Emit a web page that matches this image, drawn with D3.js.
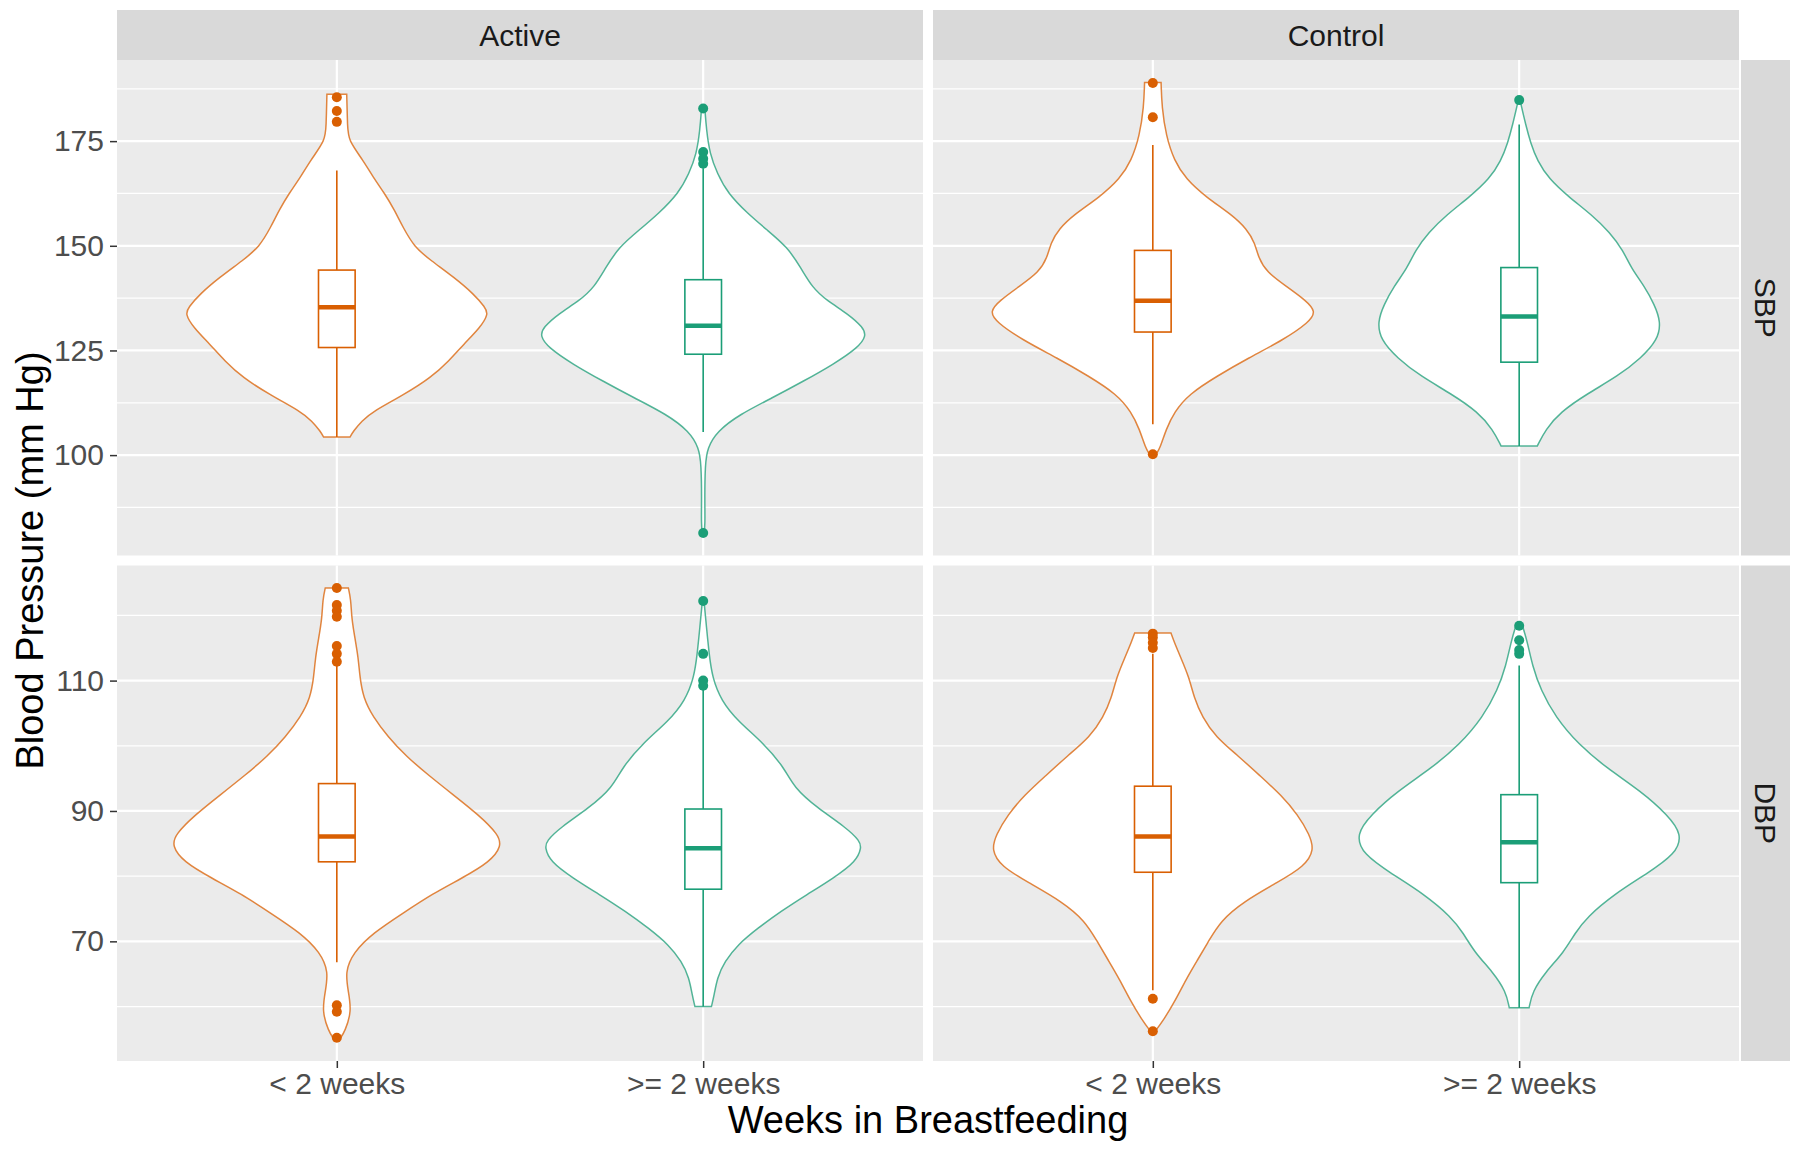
<!DOCTYPE html>
<html>
<head>
<meta charset="utf-8">
<script src="https://cdn.jsdelivr.net/npm/d3@7"></script>
<style>
  body { margin: 0; background: #fff; }
  svg { display: block; font-family: "Liberation Sans", Arial, sans-serif; }
</style>
</head>
<body>
<div id="chart"></div>
<script>
// facets and groups
const treatments = ["Active", "Control"];
const measures = ["SBP", "DBP"];
const groups = ["< 2 weeks", ">= 2 weeks"];
const groupColors = ["#D95F02", "#1B9E77"];

const sbpTicks = [100, 125, 150, 175];
const dbpTicks = [70, 90, 110];

// violin outlines: [mm Hg, relative density]
const activeSbpLt2 = [[186.2,0.06],[178.4,0.065],[175.2,0.07],[170.4,0.16],[166.4,0.22],[162.5,0.29],[158.5,0.35],[154.5,0.4],[149.7,0.47],[146.5,0.57],[142.5,0.71],[138.5,0.83],[135.3,0.9],[133.7,0.92],[130.5,0.87],[126.5,0.77],[122.5,0.68],[118.5,0.57],[114.5,0.41],[110.5,0.22],[108.1,0.15],[105.7,0.1],[104.3,0.08]];
const activeSbpGe2 = [[182.8,0.01],[177.6,0.02],[172,0.04],[167.3,0.085],[162.5,0.15],[157.7,0.27],[153.7,0.39],[149.7,0.51],[144.9,0.59],[140.1,0.66],[136.9,0.75],[133.7,0.88],[130.5,0.97],[128.5,0.99],[125.7,0.94],[121.7,0.79],[117.7,0.61],[113.7,0.42],[109.7,0.22],[105.7,0.085],[101.7,0.025],[97.7,0.012],[89.8,0.009],[83.4,0.012],[81.4,0.005]];
const controlSbpLt2 = [[189,0.05],[183.1,0.055],[176.3,0.08],[170.3,0.13],[166,0.2],[161.7,0.32],[157.4,0.48],[154,0.57],[150.6,0.62],[147.2,0.64],[143.7,0.69],[140.3,0.81],[136.9,0.93],[134.3,0.99],[131.8,0.95],[127.5,0.79],[123.2,0.58],[118.9,0.39],[114.6,0.22],[110.3,0.13],[106.1,0.08],[101.8,0.045],[100.2,0.02]];
const controlSbpGe2 = [[184.8,0.005],[178.8,0.04],[174.5,0.07],[170.3,0.11],[166,0.18],[161.7,0.3],[157.4,0.44],[153.2,0.55],[148.9,0.63],[144.6,0.68],[140.3,0.76],[136,0.82],[131.8,0.86],[127.5,0.84],[123.2,0.74],[118.9,0.6],[114.6,0.41],[110.3,0.25],[106.1,0.16],[102.2,0.11]];
const activeDbpLt2 = [[124.2,0.07],[122.5,0.085],[119.5,0.09],[116.5,0.11],[113.5,0.13],[110.5,0.14],[107.4,0.16],[104.4,0.22],[101.4,0.31],[98.4,0.42],[95.4,0.56],[92.4,0.71],[89.4,0.86],[86.4,0.98],[84.6,1],[82.2,0.93],[79.7,0.76],[77.3,0.58],[74.3,0.4],[71.3,0.22],[68.3,0.1],[65.3,0.05],[62.3,0.07],[59.3,0.09],[56.2,0.05],[55.1,0.02]];
const activeDbpGe2 = [[122.2,0.005],[118.2,0.02],[114.1,0.036],[110.5,0.055],[106.9,0.11],[103.8,0.21],[100.3,0.37],[96.7,0.49],[93.6,0.55],[90.5,0.69],[87.4,0.87],[85.4,0.95],[84.4,0.96],[82.3,0.93],[79.7,0.79],[77.2,0.63],[74.6,0.47],[72,0.33],[69.5,0.21],[66.9,0.13],[64.4,0.085],[61.8,0.067],[60,0.05]];
const controlDbpLt2 = [[117.3,0.11],[115.9,0.13],[113.5,0.17],[110.5,0.22],[107.4,0.25],[104.4,0.3],[101.4,0.38],[98.4,0.52],[95.4,0.65],[92.4,0.78],[89.4,0.88],[86.4,0.95],[84,0.98],[81.5,0.92],[79.1,0.76],[76.1,0.55],[73.1,0.41],[70.1,0.34],[67.1,0.27],[64.1,0.2],[61.1,0.14],[58.1,0.07],[55.9,0.005]];
const controlDbpGe2 = [[118.4,0.02],[115.9,0.05],[112.3,0.08],[108.6,0.13],[104.4,0.22],[100.2,0.36],[96.6,0.53],[93,0.74],[89.4,0.9],[86.4,0.99],[83.4,0.95],[80.3,0.77],[77.3,0.58],[73.7,0.41],[71.3,0.34],[68.3,0.27],[65.3,0.16],[62.3,0.08],[59.8,0.06]];

// boxplot stats: [lower whisker, q1, median, q3, upper whisker]
const boxActiveSbpLt2 = [104.3, 125.7, 135.3, 144.2, 168.0];
const boxActiveSbpGe2 = [105.5, 124.1, 130.9, 141.9, 168.5];
const boxControlSbpLt2 = [107.4, 129.4, 136.9, 148.9, 174.1];
const boxControlSbpGe2 = [102.2, 122.2, 133.1, 144.8, 179.0];
const boxActiveDbpLt2 = [66.8, 82.2, 86.1, 94.2, 112.3];
const boxActiveDbpGe2 = [60.0, 78.0, 84.3, 90.3, 108.6];
const boxControlDbpLt2 = [62.5, 80.6, 86.1, 93.8, 114.1];
const boxControlDbpGe2 = [59.8, 79.0, 85.2, 92.5, 112.3];

// outliers
const outActiveSbpLt2 = [185.5, 182.2, 179.6];
const outActiveSbpGe2 = [182.8, 172.4, 170.8, 169.6, 81.4];
const outControlSbpLt2 = [188.9, 180.7, 100.2];
const outControlSbpGe2 = [184.8];
const outActiveDbpLt2 = [124.2, 121.6, 120.7, 119.8, 115.3, 114.1, 112.9, 60.2, 59.2, 55.2];
const outActiveDbpGe2 = [122.2, 114.1, 110.0, 109.2];
const outControlDbpLt2 = [117.2, 116.6, 115.8, 115.0, 61.2, 56.2];
const outControlDbpGe2 = [118.4, 116.2, 114.7, 114.1];

const cells = [
  {t: "Active", m: "SBP", g: 0, prof: activeSbpLt2, box: boxActiveSbpLt2, out: outActiveSbpLt2},
  {t: "Active", m: "SBP", g: 1, prof: activeSbpGe2, box: boxActiveSbpGe2, out: outActiveSbpGe2},
  {t: "Control", m: "SBP", g: 0, prof: controlSbpLt2, box: boxControlSbpLt2, out: outControlSbpLt2},
  {t: "Control", m: "SBP", g: 1, prof: controlSbpGe2, box: boxControlSbpGe2, out: outControlSbpGe2},
  {t: "Active", m: "DBP", g: 0, prof: activeDbpLt2, box: boxActiveDbpLt2, out: outActiveDbpLt2},
  {t: "Active", m: "DBP", g: 1, prof: activeDbpGe2, box: boxActiveDbpGe2, out: outActiveDbpGe2},
  {t: "Control", m: "DBP", g: 0, prof: controlDbpLt2, box: boxControlDbpLt2, out: outControlDbpLt2},
  {t: "Control", m: "DBP", g: 1, prof: controlDbpGe2, box: boxControlDbpGe2, out: outControlDbpGe2},
];

const W = 1800, H = 1154;
const margin = {top: 10, right: 10, bottom: 93, left: 117};
const stripH = 50, stripW = 49, stripGap = 2, gap = 10;
const plotW = W - margin.left - margin.right - stripW - stripGap;
const plotH = H - margin.top - stripH - margin.bottom;
const panelW = (plotW - gap) / 2;
const panelH = (plotH - gap) / 2;
const top0 = margin.top + stripH;

const svg = d3.select("#chart").append("svg")
  .attr("width", W).attr("height", H)
  .attr("viewBox", `0 0 ${W} ${H}`);

// y scale per measure, ggplot style 5% expansion
const yScales = {};
measures.forEach((m, i) => {
  const sub = cells.filter(c => c.m === m);
  const vals = sub.flatMap(c => c.prof.map(p => p[0]).concat(c.out, c.box));
  const [lo, hi] = d3.extent(vals);
  const pad = (hi - lo) * 0.05;
  const y0 = top0 + i * (panelH + gap);
  yScales[m] = d3.scaleLinear().domain([lo - pad, hi + pad]).range([y0 + panelH, y0]);
});
const ticks = {SBP: sbpTicks, DBP: dbpTicks};
const minorTicks = {
  SBP: d3.range(87.5, 195, 25),
  DBP: d3.range(60, 128, 20)
};

const xScales = {};
treatments.forEach((t, i) => {
  const x0 = margin.left + i * (panelW + gap);
  xScales[t] = d3.scalePoint().domain(groups).range([x0, x0 + panelW]).padding(0.6);
});

// panels
treatments.forEach(t => {
  measures.forEach(m => {
    const x = xScales[t], y = yScales[m];
    const [xa, xb] = x.range();
    const [yb, ya] = y.range();
    const g = svg.append("g");
    g.append("rect").attr("x", xa).attr("y", ya).attr("width", xb - xa).attr("height", yb - ya).attr("fill", "#EBEBEB");
    g.selectAll(".minor").data(minorTicks[m].filter(v => v > y.domain()[0] && v < y.domain()[1])).enter()
      .append("line").attr("x1", xa).attr("x2", xb)
      .attr("y1", d => y(d)).attr("y2", d => y(d))
      .attr("stroke", "#fff").attr("stroke-width", 1.2);
    g.selectAll(".major").data(ticks[m]).enter()
      .append("line").attr("x1", xa).attr("x2", xb)
      .attr("y1", d => y(d)).attr("y2", d => y(d))
      .attr("stroke", "#fff").attr("stroke-width", 2.2);
    g.selectAll(".vmajor").data(groups).enter()
      .append("line").attr("y1", ya).attr("y2", yb)
      .attr("x1", d => x(d)).attr("x2", d => x(d))
      .attr("stroke", "#fff").attr("stroke-width", 2.2);
  });
});

// violins + boxplots
cells.forEach(c => {
  const x = xScales[c.t], y = yScales[c.m];
  const step = x.step();
  const cx = x(groups[c.g]);
  const col = groupColors[c.g];
  const area = d3.area()
    .y(d => y(d[0]))
    .x0(d => cx - d[1] * 0.45 * step)
    .x1(d => cx + d[1] * 0.45 * step)
    .curve(d3.curveBasis);
  svg.append("path").attr("d", area(c.prof))
    .attr("fill", "#fff").attr("stroke", col).attr("stroke-opacity", 0.75).attr("stroke-width", 1.5);

  const [lw, q1, md, q3, uw] = c.box;
  const bw = 0.05 * step;
  const g = svg.append("g").attr("stroke", col).attr("fill", "none");
  g.append("line").attr("x1", cx).attr("x2", cx).attr("y1", y(q3)).attr("y2", y(uw)).attr("stroke-width", 1.6);
  g.append("line").attr("x1", cx).attr("x2", cx).attr("y1", y(q1)).attr("y2", y(lw)).attr("stroke-width", 1.6);
  g.append("rect").attr("x", cx - bw).attr("width", 2 * bw)
    .attr("y", y(q3)).attr("height", y(q1) - y(q3)).attr("fill", "#fff").attr("stroke-width", 1.6);
  g.append("line").attr("x1", cx - bw).attr("x2", cx + bw).attr("y1", y(md)).attr("y2", y(md)).attr("stroke-width", 4.5);
  svg.selectAll(null).data(c.out).enter().append("circle")
    .attr("cx", cx).attr("cy", d => y(d)).attr("r", 5).attr("fill", col);
});

// y axes
measures.forEach(m => {
  const y = yScales[m];
  const g = svg.append("g").attr("transform", `translate(${margin.left},0)`);
  g.call(d3.axisLeft(y).tickValues(ticks[m]).tickSize(7).tickPadding(6).tickFormat(d3.format("d")));
  g.select(".domain").remove();
  g.selectAll(".tick line").attr("stroke", "#333").attr("stroke-width", 1.5);
  g.selectAll(".tick text").attr("fill", "#4D4D4D").attr("font-size", 30).attr("font-family", "Liberation Sans, Arial, sans-serif");
});

// x axes
treatments.forEach(t => {
  const x = xScales[t];
  const yb = yScales.DBP.range()[0];
  const g = svg.append("g").attr("transform", `translate(0,${yb})`);
  g.call(d3.axisBottom(x).tickSize(7).tickPadding(5));
  g.select(".domain").remove();
  g.selectAll(".tick line").attr("stroke", "#333").attr("stroke-width", 1.5);
  g.selectAll(".tick text").attr("fill", "#4D4D4D").attr("font-size", 30).attr("font-family", "Liberation Sans, Arial, sans-serif");
});

// top strips
treatments.forEach(t => {
  const [xa, xb] = xScales[t].range();
  svg.append("rect").attr("x", xa).attr("y", margin.top).attr("width", xb - xa).attr("height", stripH).attr("fill", "#D9D9D9");
  svg.append("text").attr("x", (xa + xb) / 2).attr("y", margin.top + stripH / 2).attr("dy", "0.35em")
    .attr("text-anchor", "middle").attr("font-size", 30).attr("fill", "#1A1A1A").text(t);
});

// right strips
measures.forEach(m => {
  const [yb, ya] = yScales[m].range();
  const sx = margin.left + plotW + stripGap;
  svg.append("rect").attr("x", sx).attr("y", ya).attr("width", stripW).attr("height", yb - ya).attr("fill", "#D9D9D9");
  svg.append("text").attr("transform", `translate(${sx + stripW / 2},${(ya + yb) / 2}) rotate(90)`)
    .attr("dy", "0.35em").attr("text-anchor", "middle").attr("font-size", 30).attr("fill", "#1A1A1A").text(m);
});

// axis titles
svg.append("text").attr("x", margin.left + plotW / 2).attr("y", 1133)
  .attr("text-anchor", "middle").attr("font-size", 38).attr("fill", "#000").text("Weeks in Breastfeeding");
svg.append("text").attr("transform", `translate(43,${top0 + plotH / 2}) rotate(-90)`)
  .attr("text-anchor", "middle").attr("font-size", 38).attr("fill", "#000").text("Blood Pressure (mm Hg)");
</script>
</body>
</html>
